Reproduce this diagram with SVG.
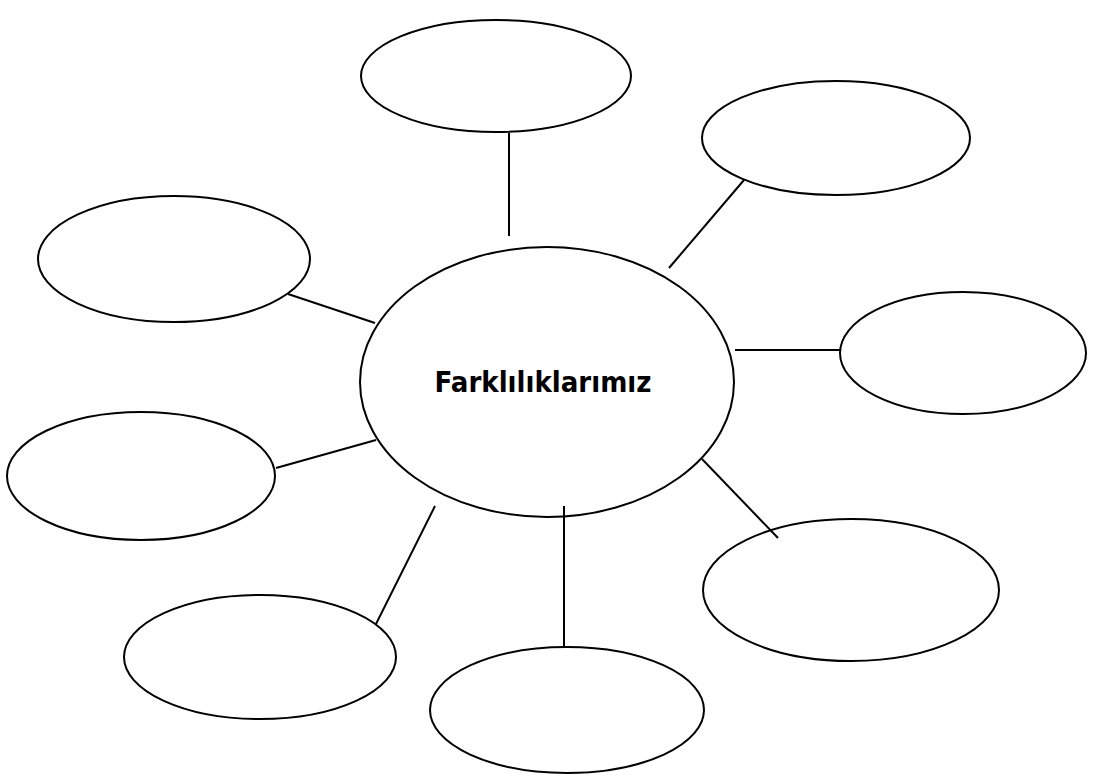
<svg xmlns="http://www.w3.org/2000/svg" width="1094" height="781" viewBox="0 0 1094 781">
  <style>
    .bubble { fill: none; stroke: #000000; stroke-width: 2; }
    .link { stroke: #000000; stroke-width: 2; fill: none; }
    .title { font-family: "DejaVu Sans", "Liberation Sans", sans-serif; font-weight: bold; font-size: 29px; fill: #000000; }
  </style>
  <rect width="1094" height="781" fill="#ffffff"/>
  <g id="connectors">
    <line class="link" x1="509" y1="133" x2="509" y2="236"/>
    <line class="link" x1="744" y1="180" x2="669" y2="268"/>
    <line class="link" x1="288" y1="294" x2="375" y2="323"/>
    <line class="link" x1="735" y1="350" x2="840" y2="350"/>
    <line class="link" x1="276" y1="468" x2="376" y2="440"/>
    <line class="link" x1="702" y1="459" x2="778" y2="538"/>
    <line class="link" x1="435" y1="506" x2="376" y2="624"/>
    <line class="link" x1="564" y1="506" x2="564" y2="648"/>
  </g>
  <g id="center">
    <ellipse class="bubble" cx="547" cy="382" rx="187" ry="135"/>
    <text class="title" x="543" y="392" text-anchor="middle" textLength="217" lengthAdjust="spacingAndGlyphs">Farklılıklarımız</text>
  </g>
  <g id="top"><ellipse class="bubble" cx="496" cy="76" rx="135" ry="56"/></g>
  <g id="top-right"><ellipse class="bubble" cx="836" cy="138" rx="134" ry="57"/></g>
  <g id="upper-left"><ellipse class="bubble" cx="174" cy="259" rx="136" ry="63"/></g>
  <g id="right"><ellipse class="bubble" cx="963" cy="353" rx="123" ry="61"/></g>
  <g id="lower-left"><ellipse class="bubble" cx="141" cy="476" rx="134" ry="64"/></g>
  <g id="bottom-right"><ellipse class="bubble" cx="851" cy="590" rx="148" ry="71"/></g>
  <g id="bottom-left"><ellipse class="bubble" cx="260" cy="657" rx="136" ry="62"/></g>
  <g id="bottom"><ellipse class="bubble" cx="567" cy="710" rx="137" ry="63"/></g>
</svg>
